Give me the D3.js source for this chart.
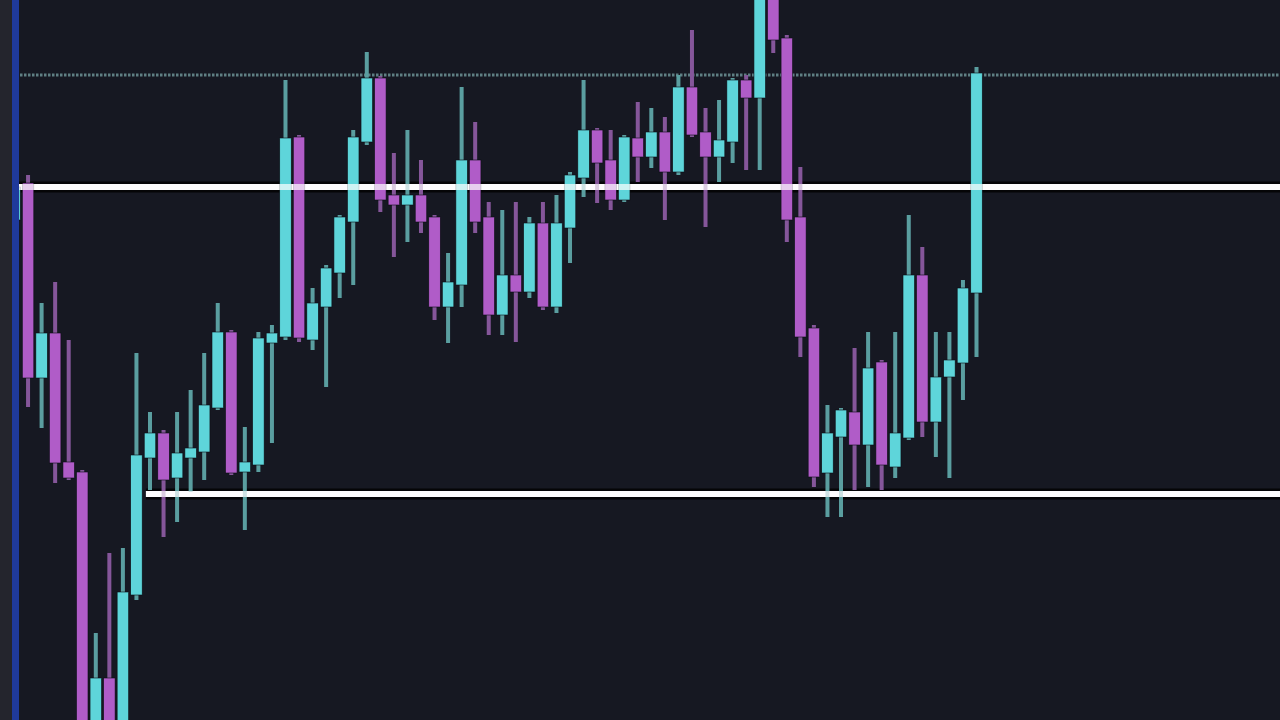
<!DOCTYPE html>
<html lang="en">
<head>
<meta charset="UTF-8">
<title>Candles</title>
<script src="https://cdn.jsdelivr.net/npm/d3@7"></script>
<style>
  html, body { margin: 0; padding: 0; background: #161822; overflow: hidden; }
</style>
</head>
<body>

<script type="text/javascript">
  //Width and height
  var w = 1280;
  var h = 720;

  // candle prices
  var opens  = [2028.0, 2031.7, 2012.2, 2016.7, 2003.8, 2002.8, 1974.0, 1982.2, 1974.0, 1990.5,
                2004.2, 2006.7, 2002.2, 2004.2, 2004.8, 2009.2, 2016.8, 2002.8, 2003.5, 2015.7,
                2016.3, 2036.3, 2016.0, 2019.3, 2022.7, 2027.8, 2035.8, 2042.2, 2030.5, 2029.5,
                2030.5, 2028.3, 2019.3, 2021.5, 2034.0, 2028.3, 2018.5, 2022.5, 2020.8, 2027.7,
                2019.3, 2027.2, 2032.2, 2037.0, 2034.0, 2030.0, 2036.2, 2034.3, 2036.8, 2032.8,
                2041.3, 2036.8, 2034.3, 2035.8, 2042.0, 2040.2, 2053.0, 2046.2, 2028.3, 2017.2,
                2002.7, 2006.3, 2008.8, 2005.5, 2013.8, 2003.3, 2006.2, 2022.5, 2007.8, 2012.3,
                2013.7, 2020.7];
  var highs  = [2031.7, 2032.5, 2019.7, 2021.8, 2016.0, 2003.0, 1986.7, 1994.7, 1995.2, 2014.7,
                2008.8, 2007.0, 2008.8, 2011.0, 2014.7, 2019.7, 2017.0, 2007.3, 2016.8, 2017.5,
                2042.0, 2036.5, 2021.2, 2023.5, 2028.5, 2037.0, 2044.8, 2042.4, 2034.7, 2037.0,
                2034.0, 2028.5, 2024.7, 2041.3, 2037.8, 2029.8, 2029.0, 2029.8, 2028.3, 2029.8,
                2030.5, 2032.8, 2042.0, 2037.2, 2037.0, 2036.5, 2039.8, 2039.2, 2038.3, 2042.5,
                2047.0, 2039.2, 2040.0, 2042.2, 2042.5, 2054.0, 2054.0, 2046.5, 2033.3, 2017.5,
                2009.5, 2009.2, 2015.2, 2016.8, 2014.0, 2016.8, 2028.5, 2025.3, 2016.8, 2016.8,
                2022.0, 2043.3];
  var lows   = [2027.8, 2009.3, 2007.2, 2001.7, 2002.0, 1972.0, 1972.0, 1972.0, 1972.0, 1990.0,
                2001.0, 1996.3, 1997.8, 2000.8, 2002.0, 2009.0, 2002.5, 1997.0, 2002.8, 2005.7,
                2016.0, 2015.8, 2015.0, 2011.3, 2020.2, 2021.5, 2035.5, 2028.8, 2024.3, 2025.8,
                2026.7, 2018.0, 2015.7, 2019.3, 2026.7, 2016.5, 2016.5, 2015.8, 2020.2, 2019.0,
                2018.7, 2023.7, 2030.3, 2029.7, 2029.0, 2029.8, 2031.8, 2033.2, 2028.0, 2032.5,
                2036.3, 2027.3, 2031.8, 2033.7, 2033.0, 2033.0, 2044.7, 2025.8, 2014.3, 2001.3,
                1998.3, 1998.3, 2001.0, 2001.3, 2001.0, 2002.2, 2006.0, 2006.3, 2004.3, 2002.2,
                2010.0, 2014.3];
  var closes = [2031.3, 2012.2, 2016.7, 2003.7, 2002.2, 1974.0, 1982.2, 1974.0, 1990.8, 2004.5,
                2006.7, 2002.0, 2004.7, 2005.2, 2009.5, 2016.8, 2002.7, 2003.8, 2016.2, 2016.7,
                2036.2, 2016.2, 2019.7, 2023.2, 2028.3, 2036.3, 2042.2, 2030.0, 2029.5, 2030.5,
                2027.8, 2019.3, 2021.8, 2034.0, 2027.8, 2018.5, 2022.5, 2020.8, 2027.7, 2019.3,
                2027.7, 2032.5, 2037.0, 2033.7, 2030.0, 2036.3, 2034.3, 2036.8, 2032.8, 2041.3,
                2036.5, 2034.3, 2036.0, 2042.0, 2040.2, 2053.0, 2046.0, 2028.0, 2016.3, 2002.3,
                2006.7, 2009.0, 2005.5, 2013.2, 2003.5, 2006.7, 2022.5, 2007.8, 2012.3, 2014.0,
                2021.2, 2042.7];

  // horizontal levels
  var dottedLevel = 2042.5;
  var whiteLevels = [2031.3, 2000.6];
  var whiteStarts = [0, 9.7];   // candle index where each line begins

  var upColor = "#5ed5da", downColor = "#b05cc8";
  var upWick = "#5a9ea0", downWick = "#85569a";

  var xScale = d3.scaleLinear()
    .domain([0, opens.length - 1])
    .range([14.5, 976.5]);

  var yScale = d3.scaleLinear()
    .domain([2050, 1978])
    .range([0, h]);

  var bodyW = 11.5;

  //Create SVG element
  var svg = d3.select("body")
    .append("svg")
    .attr("width", w)
    .attr("height", h)
    .style("display", "block");

  svg.append("rect")
    .attr("width", w)
    .attr("height", h)
    .attr("fill", "#161822");

  // dotted level
  svg.append("line")
    .attr("x1", 0).attr("x2", w)
    .attr("y1", yScale(dottedLevel)).attr("y2", yScale(dottedLevel))
    .attr("stroke", "#5f7f83")
    .attr("stroke-width", 3)
    .attr("stroke-dasharray", "2.5,1.5");

  // white levels behind the candles: dark edge + solid white
  whiteLevels.forEach(function(lv, k) {
    svg.append("line")
      .attr("x1", xScale(whiteStarts[k])).attr("x2", w)
      .attr("y1", yScale(lv)).attr("y2", yScale(lv))
      .attr("stroke", "#050507")
      .attr("stroke-width", 11);
    svg.append("line")
      .attr("x1", xScale(whiteStarts[k])).attr("x2", w)
      .attr("y1", yScale(lv)).attr("y2", yScale(lv))
      .attr("stroke", "#f8f6f8")
      .attr("stroke-width", 6);
  });

  var candles = d3.range(opens.length).map(function(i) {
    return {i: i, o: opens[i], h: highs[i], l: lows[i], c: closes[i]};
  });

  var g = svg.selectAll("g.candle")
    .data(candles)
    .enter()
    .append("g")
    .attr("class", "candle");

  // wicks
  g.append("rect")
    .attr("x", function(d) { return xScale(d.i) - 2; })
    .attr("width", 4)
    .attr("y", function(d) { return yScale(d.h); })
    .attr("height", function(d) { return yScale(d.l) - yScale(d.h); })
    .attr("fill", function(d) { return d.c >= d.o ? upWick : downWick; });

  // bodies
  g.append("rect")
    .attr("x", function(d) { return xScale(d.i) - bodyW / 2; })
    .attr("width", bodyW)
    .attr("y", function(d) { return yScale(Math.max(d.o, d.c)); })
    .attr("height", function(d) { return Math.max(3, Math.abs(yScale(d.o) - yScale(d.c))); })
    .attr("fill", function(d) { return d.c >= d.o ? upColor : downColor; })
    .attr("stroke", "#0d0f16")
    .attr("stroke-width", 0.6);

  // white levels again on top, see-through so the candles tint them
  whiteLevels.forEach(function(lv, k) {
    svg.append("line")
      .attr("x1", xScale(whiteStarts[k])).attr("x2", w)
      .attr("y1", yScale(lv)).attr("y2", yScale(lv))
      .attr("stroke", "#ffffff")
      .attr("stroke-opacity", 0.7)
      .attr("stroke-width", 6);
  });

  // left edge: grey strip and blue line
  svg.append("rect")
    .attr("x", 0).attr("y", 0)
    .attr("width", 12).attr("height", h)
    .attr("fill", "#24252d");
  svg.append("rect")
    .attr("x", 12).attr("y", 0)
    .attr("width", 7).attr("height", h)
    .attr("fill", "#1f3a9c");
</script>

</body>
</html>
